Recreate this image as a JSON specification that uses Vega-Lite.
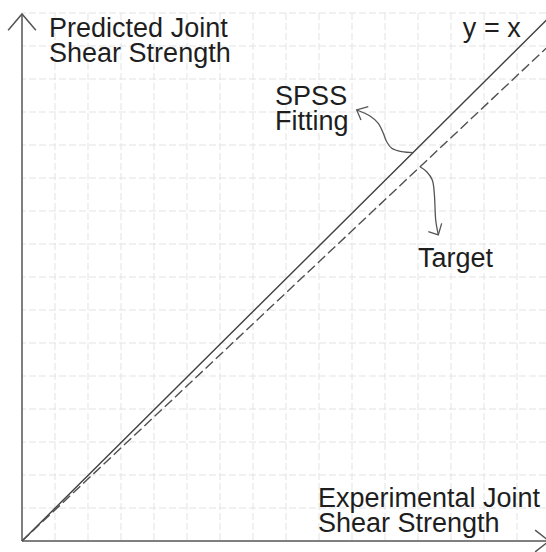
{
  "$schema": "https://vega.github.io/schema/vega-lite/v6.json",
  "width": 524,
  "height": 528,
  "autosize": "none",
  "padding": {"left": 22, "top": 13, "right": 0, "bottom": 11},
  "background": "white",
  "config": {
    "view": {"stroke": null},
    "font": "Liberation Sans"
  },
  "datasets": {
    "grid": [
      {"g": 1}, {"g": 2}, {"g": 3}, {"g": 4}, {"g": 5}, {"g": 6}, {"g": 7}, {"g": 8},
      {"g": 9}, {"g": 10}, {"g": 11}, {"g": 12}, {"g": 13}, {"g": 14}, {"g": 15}, {"g": 16}
    ],
    "fits": [
      {"series": "SPSS Fitting", "x": 0, "y": 0},
      {"series": "SPSS Fitting", "x": 16.2, "y": 16.09},
      {"series": "Target", "x": 0, "y": 0},
      {"series": "Target", "x": 16.2, "y": 15.23}
    ],
    "frame": [
      {"part": "y axis", "o": 0, "x": 0, "y": 0},
      {"part": "y axis", "o": 1, "x": 0, "y": 15.97},
      {"part": "x axis", "o": 0, "x": 0, "y": 0},
      {"part": "x axis", "o": 1, "x": 15.97, "y": 0},
      {"part": "y head", "o": 0, "x": -0.42, "y": 15.48},
      {"part": "y head", "o": 1, "x": 0, "y": 15.97},
      {"part": "y head", "o": 2, "x": 0.42, "y": 15.48},
      {"part": "x head", "o": 0, "x": 15.55, "y": 0.33},
      {"part": "x head", "o": 1, "x": 15.97, "y": 0},
      {"part": "x head", "o": 2, "x": 15.55, "y": -0.33}
    ],
    "callouts": [
      {"curve": "SPSS Fitting", "o": 0, "x": 11.858, "y": 11.767},
      {"curve": "SPSS Fitting", "o": 1, "x": 11.506, "y": 11.797},
      {"curve": "SPSS Fitting", "o": 2, "x": 11.203, "y": 11.9},
      {"curve": "SPSS Fitting", "o": 3, "x": 11.052, "y": 12.1},
      {"curve": "SPSS Fitting", "o": 4, "x": 10.948, "y": 12.355},
      {"curve": "SPSS Fitting", "o": 5, "x": 10.797, "y": 12.658},
      {"curve": "SPSS Fitting", "o": 6, "x": 10.545, "y": 12.879},
      {"curve": "SPSS Fitting", "o": 7, "x": 10.142, "y": 13.061},
      {"curve": "Target", "o": 0, "x": 12.061, "y": 11.342},
      {"curve": "Target", "o": 1, "x": 12.264, "y": 11.191},
      {"curve": "Target", "o": 2, "x": 12.433, "y": 10.939},
      {"curve": "Target", "o": 3, "x": 12.494, "y": 10.536},
      {"curve": "Target", "o": 4, "x": 12.515, "y": 10.13},
      {"curve": "Target", "o": 5, "x": 12.536, "y": 9.727},
      {"curve": "Target", "o": 6, "x": 12.615, "y": 9.273}
    ],
    "heads": [
      {"curve": "SPSS Fitting", "o": 0, "x": 10.494, "y": 13.161},
      {"curve": "SPSS Fitting", "o": 1, "x": 10.142, "y": 13.061},
      {"curve": "SPSS Fitting", "o": 2, "x": 10.273, "y": 12.758},
      {"curve": "Target", "o": 0, "x": 12.312, "y": 9.373},
      {"curve": "Target", "o": 1, "x": 12.615, "y": 9.273},
      {"curve": "Target", "o": 2, "x": 12.718, "y": 9.627}
    ],
    "labels": [
      {"text": "Predicted Joint\nShear Strength", "x": 0.82, "y": 15.27},
      {"text": "y = x", "x": 13.36, "y": 15.28},
      {"text": "SPSS\nFitting", "x": 7.67, "y": 13.21},
      {"text": "Target", "x": 12.0, "y": 8.31},
      {"text": "Experimental Joint\nShear Strength", "x": 8.97, "y": 1.03}
    ]
  },
  "layer": [
    {
      "data": {"name": "grid"},
      "mark": {"type": "rule", "color": "#e3e3e3", "strokeWidth": 1, "strokeDash": [7, 3]},
      "encoding": {
        "x": {"field": "g", "type": "quantitative", "scale": {"domain": [0, 15.879], "nice": false, "zero": false}, "axis": null}
      }
    },
    {
      "data": {"name": "grid"},
      "mark": {"type": "rule", "color": "#e3e3e3", "strokeWidth": 1, "strokeDash": [7, 3]},
      "encoding": {
        "y": {"field": "g", "type": "quantitative", "scale": {"domain": [0, 16], "nice": false, "zero": false}, "axis": null}
      }
    },
    {
      "data": {"name": "fits"},
      "transform": [{"filter": "datum.series === 'SPSS Fitting'"}],
      "mark": {"type": "line", "color": "#404040", "strokeWidth": 1.4},
      "encoding": {
        "x": {"field": "x", "type": "quantitative"},
        "y": {"field": "y", "type": "quantitative"}
      }
    },
    {
      "data": {"name": "fits"},
      "transform": [{"filter": "datum.series === 'Target'"}],
      "mark": {"type": "line", "color": "#505050", "strokeWidth": 1.4, "strokeDash": [10, 4]},
      "encoding": {
        "x": {"field": "x", "type": "quantitative"},
        "y": {"field": "y", "type": "quantitative"}
      }
    },
    {
      "data": {"name": "frame"},
      "mark": {"type": "line", "color": "#555555", "strokeWidth": 1.5},
      "encoding": {
        "x": {"field": "x", "type": "quantitative"},
        "y": {"field": "y", "type": "quantitative"},
        "detail": {"field": "part"},
        "order": {"field": "o", "type": "quantitative"}
      }
    },
    {
      "data": {"name": "callouts"},
      "mark": {"type": "line", "color": "#555555", "strokeWidth": 1.3, "interpolate": "catmull-rom"},
      "encoding": {
        "x": {"field": "x", "type": "quantitative"},
        "y": {"field": "y", "type": "quantitative"},
        "detail": {"field": "curve"},
        "order": {"field": "o", "type": "quantitative"}
      }
    },
    {
      "data": {"name": "heads"},
      "mark": {"type": "line", "color": "#555555", "strokeWidth": 1.3},
      "encoding": {
        "x": {"field": "x", "type": "quantitative"},
        "y": {"field": "y", "type": "quantitative"},
        "detail": {"field": "curve"},
        "order": {"field": "o", "type": "quantitative"}
      }
    },
    {
      "data": {"name": "labels"},
      "mark": {"type": "text", "align": "left", "baseline": "alphabetic", "fontSize": 27, "lineHeight": 25, "lineBreak": "\n", "color": "#1e1e1e"},
      "encoding": {
        "x": {"field": "x", "type": "quantitative"},
        "y": {"field": "y", "type": "quantitative"},
        "text": {"field": "text"}
      }
    }
  ]
}
